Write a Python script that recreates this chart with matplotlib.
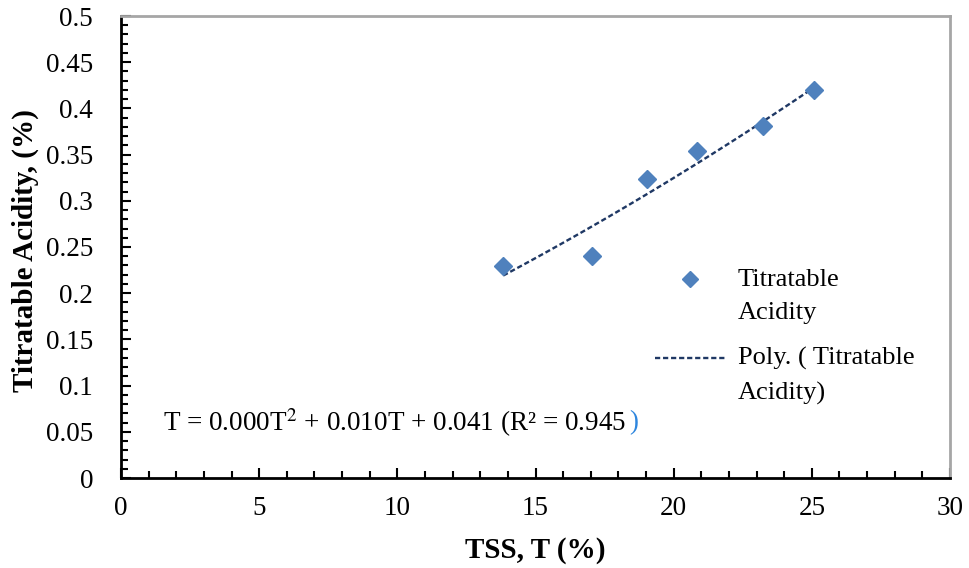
import numpy as np
import matplotlib.pyplot as plt
from matplotlib.lines import Line2D
from matplotlib.ticker import MultipleLocator

plt.rcParams['font.family'] = ['Liberation Serif', 'DejaVu Serif']
plt.rcParams['mathtext.fontset'] = 'stix'

# TSS (%) and titratable acidity (%)
tss = [13.83, 17.05, 19.04, 20.85, 23.24, 25.08]
acidity = [0.229, 0.240, 0.324, 0.354, 0.381, 0.420]

equation = 'T = 0.000T$^2$ + 0.010T + 0.041 (R² = 0.945'
point_label = ['Titratable', 'Acidity']
fit_label = ['Poly. ( Titratable', 'Acidity)']

point_color = '#4F81BD'
fit_color = '#1F3864'
fit_style = (0, (2.2, 1.2))

# second order trend line through the points
coef = np.polyfit(tss, acidity, 2)
xfit = np.linspace(min(tss), max(tss), 100)
yfit = np.polyval(coef, xfit)

W, H = 969, 568
fig = plt.figure(figsize=(W/100, H/100), dpi=100)
ax = fig.add_axes([121/W, 90/H, 829/W, 462/H])

ax.plot(tss, acidity, 'D', color=point_color, markersize=9, zorder=3)
ax.plot(xfit, yfit, color=fit_color, linestyle=fit_style, linewidth=1.7, zorder=2)

ax.set_xlim(0, 30)
ax.set_ylim(0, 0.5)
ax.xaxis.set_major_locator(MultipleLocator(5))
ax.xaxis.set_minor_locator(MultipleLocator(1))
ax.yaxis.set_minor_locator(MultipleLocator(0.01))
ax.set_yticks(np.arange(0, 0.51, 0.05))
ax.set_yticklabels(['0', '0.05', '0.1', '0.15', '0.2', '0.25', '0.3', '0.35', '0.4', '0.45', '0.5'])
ax.tick_params(which='both', direction='in', labelsize=19.5, width=1.5)
ax.tick_params(which='major', length=7)
ax.tick_params(which='minor', length=5)
ax.tick_params(axis='x', pad=13)
ax.tick_params(axis='y', pad=20)
ax.tick_params(top=False, right=False, which='both')

for side in ['left', 'bottom']:
    ax.spines[side].set_linewidth(2)
    ax.spines[side].set_color('black')
for side in ['top', 'right']:
    ax.spines[side].set_linewidth(2)
    ax.spines[side].set_color('#A6A6A6')

ax.set_xlabel('TSS, T (%)', fontsize=21, fontweight='bold', va='center', ha='center')
ax.set_ylabel('Titratable Acidity, (%)', fontsize=21, fontweight='bold', va='center', ha='center')
ax.xaxis.set_label_coords((535 - 121)/829, -(550 - 478)/462)
ax.yaxis.set_label_coords(-(121 - 25)/829, (478 - 251)/462)

eq = fig.text(163/W, 1 - 423/H, equation, fontsize=19.5, va='center', ha='left')
fig.canvas.draw()
bb = eq.get_window_extent()
fig.text(bb.x1/W + 3/W, 1 - 423/H, ')', fontsize=19.5, va='center', ha='left', color='#2E86DE')

# legend, handles sit on the first line of each label
fig.add_artist(Line2D([690/W], [1 - 279/H], marker='D', color=point_color, markersize=8.5,
                      linestyle='none', transform=fig.transFigure))
fig.add_artist(Line2D([655/W, 725/W], [1 - 358/H, 1 - 358/H], color=fit_color,
                      linestyle=fit_style, linewidth=1.7, transform=fig.transFigure))
for txt, y in zip(point_label + fit_label, [280, 313, 358, 393]):
    fig.text(738/W, 1 - y/H, txt, fontsize=19, va='center', ha='left')

fig.savefig('out.png', dpi=100)
